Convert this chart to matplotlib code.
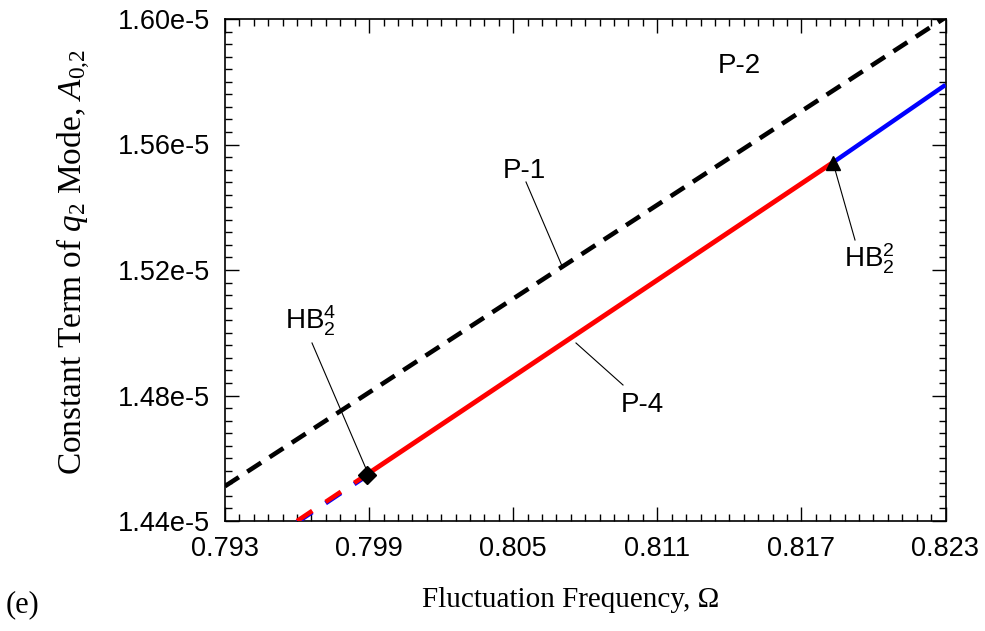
import matplotlib
matplotlib.use("Agg")
import matplotlib.pyplot as plt
import numpy as np
from matplotlib.ticker import FixedLocator, FuncFormatter

# ── Data (Omega, A_{0,2}) ─────────────────────────────────────────────────────

p1_x = [0.7930, 0.8230]                       # P-1, unstable (black dashed)
p1_y = [1.4511e-5, 1.6005e-5]

p4_unst_x = [0.7960, 0.7989]                  # P-4 below HB_2^4 (dashed)
p4_unst_y = [1.4400e-5, 1.4548e-5]
p4_x = [0.7989, 0.8183]                       # P-4 stable (red solid)
p4_y = [1.4548e-5, 1.5542e-5]
p2_x = [0.8183, 0.8230]                       # P-2 (blue solid)
p2_y = [1.5542e-5, 1.5790e-5]

hb4_pt = (0.7989, 1.4548e-5)
hb2_pt = (0.8183, 1.5542e-5)

x_major = [0.793, 0.799, 0.805, 0.811, 0.817, 0.823]
y_major = [1.44e-5, 1.48e-5, 1.52e-5, 1.56e-5, 1.60e-5]

# ── Style ─────────────────────────────────────────────────────────────────────

SANS  = "Liberation Sans"
SERIF = "Liberation Serif"
plt.rcParams["font.family"] = SANS
plt.rcParams["mathtext.fontset"] = "custom"
plt.rcParams["mathtext.rm"] = SERIF
plt.rcParams["mathtext.it"] = SERIF + ":italic"
plt.rcParams["mathtext.sf"] = SANS

W, H = 985, 631
fig = plt.figure(figsize=(W / 100, H / 100), dpi=100)
L, R, T, B = 225, 945.5, 19, 521
ax = fig.add_axes([L / W, 1 - B / H, (R - L) / W, (B - T) / H])

X0, X1 = 0.793, 0.823
Y0, Y1 = 1.44e-5, 1.60e-5
ax.set_xlim(X0, X1)
ax.set_ylim(Y0, Y1)


def px(x, y):
    """pixel position in the figure -> data coords"""
    return (X0 + (x - L) / (R - L) * (X1 - X0),
            Y0 + (B - y) / (B - T) * (Y1 - Y0))


# ── Curves ────────────────────────────────────────────────────────────────────

ax.plot(p1_x, p1_y, color="black", lw=3.3, dashes=(3.6, 2.2),
        solid_capstyle="butt", zorder=3)

off = 0.0004e-5
ax.plot(p4_unst_x, [v - off for v in p4_unst_y], color="blue", lw=3.3,
        dashes=(4.0, 3.5), zorder=3)
ax.plot(p4_unst_x, p4_unst_y, color="red", lw=3.3, dashes=(4.0, 3.5),
        zorder=4)
ax.plot(p4_x, p4_y, color="red", lw=3.5, solid_capstyle="butt", zorder=4)
ax.plot(p2_x, p2_y, color="blue", lw=3.2, solid_capstyle="butt", zorder=4)

ax.plot(*hb4_pt, marker="D", ms=9, color="black", zorder=6, clip_on=False)
ax.plot(*hb2_pt, marker="^", ms=9.5, color="black", zorder=6, clip_on=False)

# ── Labels with pointer lines ─────────────────────────────────────────────────

LAB = dict(fontsize=20, ha="center", va="baseline", fontfamily=SANS)
ax.text(*px(524, 178), "P-1", **LAB)
ax.text(*px(739, 73), "P-2", **LAB)
ax.text(*px(642, 412), "P-4", **LAB)
ax.text(*px(844, 268), r"HB$_\mathsf{2}^\mathsf{2}$",
        fontsize=20, ha="left", va="baseline")
ax.text(*px(285, 330), r"HB$_\mathsf{2}^\mathsf{4}$",
        fontsize=20, ha="left", va="baseline")

for (xa, ya), (xb, yb) in [((526, 182), (562, 266)),
                           ((576, 343), (623, 385)),
                           ((834, 166), (855, 240)),
                           ((312, 343), (367, 471))]:
    a, b = px(xa, ya), px(xb, yb)
    ax.plot([a[0], b[0]], [a[1], b[1]], color="black", lw=0.8, zorder=5)

# ── Axes ──────────────────────────────────────────────────────────────────────

ax.xaxis.set_major_locator(FixedLocator(x_major))
ax.xaxis.set_minor_locator(FixedLocator(np.linspace(X0, X1, 51)))
ax.yaxis.set_major_locator(FixedLocator(y_major))
ax.yaxis.set_minor_locator(FixedLocator(np.linspace(Y0, Y1, 41)))
ax.xaxis.set_major_formatter(FuncFormatter(lambda v, p: f"{v:.3f}"))
ax.yaxis.set_major_formatter(FuncFormatter(lambda v, p: f"{v * 1e5:.2f}e-5"))

ax.tick_params(which="both", direction="in", top=True, right=True,
               labelsize=19.5, width=1.0)
ax.tick_params(which="major", length=10, pad=11)
ax.tick_params(which="minor", length=5)
for s in ax.spines.values():
    s.set_linewidth(1.2)

ax.set_xlabel("Fluctuation Frequency, Ω", fontfamily=SERIF, fontsize=21)
ax.xaxis.set_label_coords(0.480, -0.132)
ax.set_ylabel(r"Constant Term of $q_2$ Mode, $A_{0{,}2}$", fontfamily=SERIF,
              fontsize=24)
ax.yaxis.set_label_coords(-0.183, 0.516)
fig.text(6 / W, 1 - 612 / H, "(e)", fontfamily=SERIF, fontsize=22,
         va="baseline")

fig.savefig("out.png", dpi=100)
